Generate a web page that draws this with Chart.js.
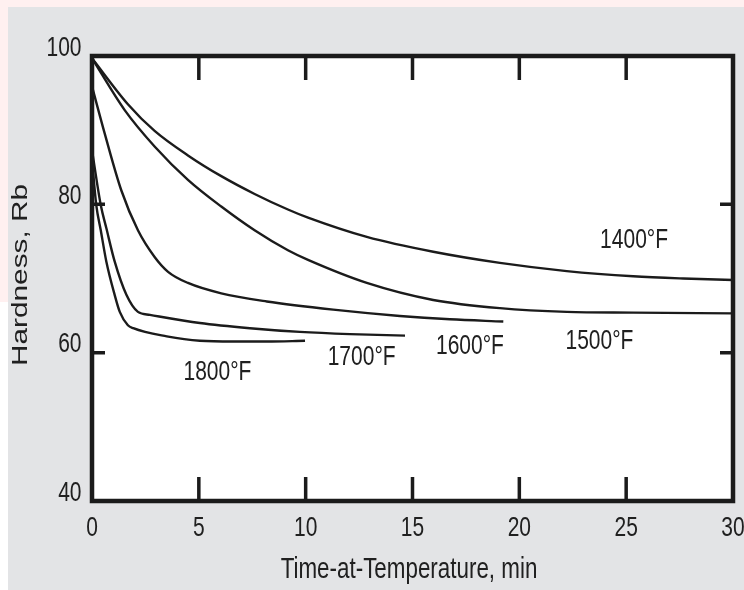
<!DOCTYPE html>
<html>
<head>
<meta charset="utf-8">
<script src="https://cdn.jsdelivr.net/npm/chart.js@4.4.1/dist/chart.umd.min.js"></script>
<style>
  html, body { margin:0; padding:0; width:744px; height:590px; overflow:hidden; background:#ffffff; }
  #pinkTop { position:absolute; left:0; top:0; width:744px; height:7px; background:#fff0f0; }
  #pinkLeft { position:absolute; left:0; top:0; width:8px; height:302px; background:#fff0f0; }
  #panel { position:absolute; left:8px; top:7px; width:736px; height:583px; background:#e3e4e6; }
  #wrap { position:absolute; left:0; top:0; width:770px; height:590px; }
</style>
</head>
<body>
<div id="pinkTop"></div>
<div id="pinkLeft"></div>
<div id="panel"></div>
<div id="wrap"><canvas id="c" width="770" height="590"></canvas></div>
<script>
// ---- data (time in min, hardness in Rb) ----
const seriesNames = ['1400°F', '1500°F', '1600°F', '1700°F', '1800°F'];

const time1400 = [0, 1.68, 2.93, 4.49, 6.05, 7.61, 9.17, 10.11, 12.86, 15.97, 19.09, 22.22, 25.33, 27.67, 30];
const hard1400 = [99.7, 93.5, 89.9, 86.6, 83.8, 81.4, 79.3, 78.2, 75.6, 73.6, 72.1, 71.0, 70.3, 70.0, 69.8];

const time1500 = [0, 1.53, 2.93, 4.49, 6.05, 7.61, 9.17, 10.11, 12.86, 15.97, 19.09, 22.22, 25.33, 30];
const hard1500 = [99.7, 92.7, 87.8, 83.3, 79.7, 76.5, 73.8, 72.5, 69.4, 67.1, 66.0, 65.5, 65.4, 65.3];

const time1600 = [0, 0.59, 1.37, 2.15, 2.93, 3.56, 4.49, 6.05, 8.18, 11.29, 14.41, 16.75, 19.25];
const hard1600 = [95.9, 89.6, 81.9, 76.5, 72.9, 70.9, 69.4, 68.0, 66.9, 65.8, 64.95, 64.5, 64.2];

const time1700 = [0, 0.41, 0.67, 1.06, 1.61, 2.15, 2.71, 5.05, 7.39, 9.73, 12.07, 14.65];
const hard1700 = [87.3, 79.9, 76.8, 72.3, 67.8, 65.5, 65.1, 64.0, 63.3, 62.8, 62.5, 62.3];

const time1800 = [0, 0.20, 0.41, 0.67, 1.06, 1.30, 1.68, 1.93, 3.50, 5.05, 6.60, 8.18, 9.97];
const hard1800 = [86.0, 79.9, 76.5, 72.3, 67.8, 65.5, 63.7, 63.3, 62.2, 61.6, 61.5, 61.5, 61.6];

const xTickValues = [0, 5, 10, 15, 20, 25, 30];
const yTickValues = [40, 60, 80, 100];
const xTitle = 'Time-at-Temperature, min';
const yTitle = 'Hardness, Rb';

// label anchors (in data units: time, hardness)
const labelTime = [25.37, 23.75, 17.69, 12.62, 5.87];
const labelHard = [75.1, 61.5, 60.8, 59.35, 57.4];

// ---- build ----
const times = [time1400, time1500, time1600, time1700, time1800];
const hards = [hard1400, hard1500, hard1600, hard1700, hard1800];
const FONT = '"Liberation Sans", Arial, Helvetica, sans-serif';
const INK = '#1b1b1b';
const TEXT = '#202020';
const STRETCH = 1.33;   // the original artwork is drawn taller than wide

const datasets = seriesNames.map((name, i) => ({
  label: name,
  data: times[i].map((t, k) => ({ x: t, y: hards[i][k] })),
  borderColor: INK,
  borderWidth: 2.4,
  pointRadius: 0,
  fill: false,
  cubicInterpolationMode: 'monotone'
}));

// draw text stretched vertically (still real text)
function tallText(ctx, text, x, y, size, align, rotate) {
  ctx.save();
  ctx.translate(x, y);
  if (rotate) { ctx.rotate(-Math.PI / 2); ctx.scale(STRETCH, 1); }
  else { ctx.scale(1, STRETCH); }
  ctx.font = size + 'px ' + FONT;
  ctx.fillStyle = TEXT;
  ctx.textAlign = align;
  ctx.textBaseline = 'middle';
  ctx.fillText(text, 0, 0);
  ctx.restore();
}

const framePlugin = {
  id: 'frame',
  beforeDraw(chart) {
    const { ctx, chartArea: a } = chart;
    ctx.save();
    ctx.fillStyle = '#ffffff';
    ctx.fillRect(a.left, a.top, a.right - a.left, a.bottom - a.top);
    ctx.restore();
  },
  afterDraw(chart) {
    const { ctx, chartArea: a, scales } = chart;
    const xs = scales.x, ys = scales.y;
    ctx.save();
    ctx.strokeStyle = INK;
    // box
    ctx.lineWidth = 4.5;
    ctx.lineJoin = 'miter';
    ctx.strokeRect(a.left, a.top, a.right - a.left, a.bottom - a.top);
    // inner tick marks
    ctx.lineWidth = 3.5;
    ctx.beginPath();
    xs.ticks.forEach(tk => {
      const v = tk.value;
      if (v === xs.min || v === xs.max) return;
      const px = xs.getPixelForValue(v);
      ctx.moveTo(px, a.bottom); ctx.lineTo(px, a.bottom - 24);
      ctx.moveTo(px, a.top); ctx.lineTo(px, a.top + 24);
    });
    ys.ticks.forEach(tk => {
      const v = tk.value;
      if (v === ys.min || v === ys.max) return;
      const py = ys.getPixelForValue(v);
      ctx.moveTo(a.left, py); ctx.lineTo(a.left + 13, py);
      ctx.moveTo(a.right, py); ctx.lineTo(a.right - 13, py);
    });
    ctx.stroke();
    ctx.restore();

    // tick labels, placed by the scales
    xs.ticks.forEach(tk => {
      tallText(ctx, String(tk.value), xs.getPixelForValue(tk.value), a.bottom + 27, 21, 'center');
    });
    ys.ticks.forEach(tk => {
      tallText(ctx, String(tk.value), a.left - 10.5, ys.getPixelForValue(tk.value) - 8, 21, 'right');
    });
    // curve labels
    seriesNames.forEach((name, i) => {
      tallText(ctx, name, xs.getPixelForValue(labelTime[i]), ys.getPixelForValue(labelHard[i]), 21, 'center');
    });
    // axis titles
    tallText(ctx, xTitle, (a.left + a.right) / 2 - 3.5, 570, 22.4, 'center');
    tallText(ctx, yTitle, 20.5, 275, 22.4, 'center', true);
  }
};

new Chart(document.getElementById('c'), {
  type: 'line',
  data: { datasets },
  options: {
    responsive: false,
    animation: false,
    devicePixelRatio: 1,
    layout: { padding: { left: 0, top: 56, right: 37, bottom: 0 } },
    plugins: { legend: { display: false }, tooltip: { enabled: false } },
    scales: {
      x: {
        type: 'linear',
        min: 0, max: 30,
        afterBuildTicks: s => { s.ticks = xTickValues.map(v => ({ value: v })); },
        afterFit: s => { s.height = 89; },
        grid: { display: false, drawTicks: false },
        border: { display: false },
        ticks: { display: false }
      },
      y: {
        type: 'linear',
        min: 40, max: 100,
        afterBuildTicks: s => { s.ticks = yTickValues.map(v => ({ value: v })); },
        afterFit: s => { s.width = 92; },
        grid: { display: false, drawTicks: false },
        border: { display: false },
        ticks: { display: false }
      }
    }
  },
  plugins: [framePlugin]
});
</script>
</body>
</html>
